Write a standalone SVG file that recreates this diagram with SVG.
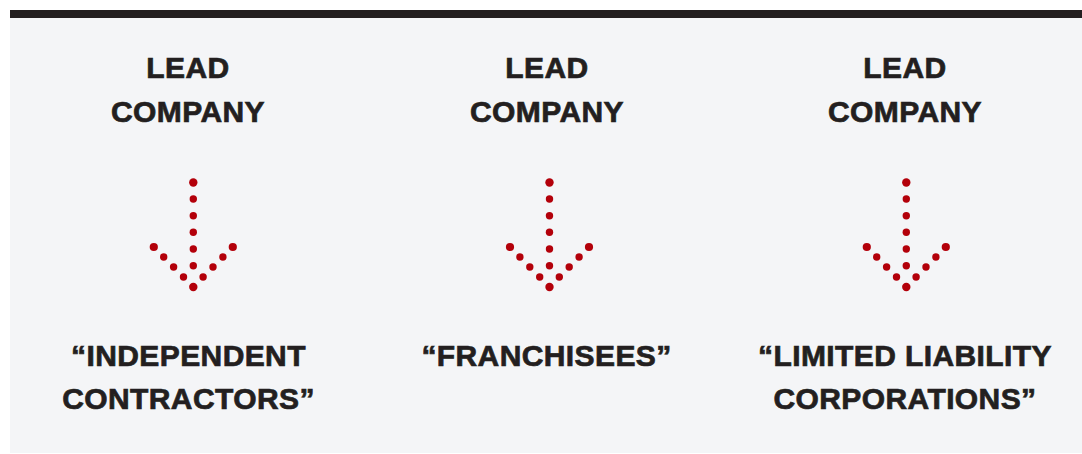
<svg xmlns="http://www.w3.org/2000/svg" width="1082" height="454" viewBox="0 0 1082 454">
<style>
.t{font-family:"Liberation Sans",Arial,sans-serif;font-weight:bold;font-size:30px;fill:#231f20;stroke:#231f20;stroke-width:0.7;letter-spacing:0.4px;text-anchor:middle}
.d{fill:#b3000a}
</style>
<defs>
<g id="arrow">
<circle class="d" cx="0" cy="182.5" r="4.2"/>
<circle class="d" cx="0" cy="199" r="3.7"/>
<circle class="d" cx="0" cy="215.7" r="3.7"/>
<circle class="d" cx="0" cy="232.3" r="3.7"/>
<circle class="d" cx="0" cy="249" r="3.7"/>
<circle class="d" cx="0" cy="265.7" r="3.7"/>
<circle class="d" cx="0" cy="287" r="4.2"/>
<circle class="d" cx="-39.5" cy="247" r="4.1"/>
<circle class="d" cx="-29.6" cy="257" r="3.7"/>
<circle class="d" cx="-19.7" cy="267" r="3.7"/>
<circle class="d" cx="-9.8" cy="277" r="3.7"/>
<circle class="d" cx="39.5" cy="247" r="4.1"/>
<circle class="d" cx="29.6" cy="257" r="3.7"/>
<circle class="d" cx="19.7" cy="267" r="3.7"/>
<circle class="d" cx="9.8" cy="277" r="3.7"/>
</g>
</defs>
<rect x="0" y="0" width="1082" height="454" fill="#ffffff"/>
<rect x="10" y="18" width="1072" height="435" fill="#f4f5f7"/>
<rect x="10" y="10" width="1072" height="8" fill="#231f20"/>
<g id="lead1"><text class="t" x="188" y="78">LEAD</text><text class="t" x="188" y="122">COMPANY</text></g>
<g id="lead2"><text class="t" x="547" y="78">LEAD</text><text class="t" x="547" y="122">COMPANY</text></g>
<g id="lead3"><text class="t" x="905" y="78">LEAD</text><text class="t" x="905" y="122">COMPANY</text></g>
<g id="contractors"><text class="t" x="188.5" y="366">“INDEPENDENT</text><text class="t" x="188.5" y="409">CONTRACTORS”</text></g>
<g id="franchisees"><text class="t" x="546.5" y="366">“FRANCHISEES”</text></g>
<g id="llc"><text class="t" x="905" y="366">“LIMITED LIABILITY</text><text class="t" x="905" y="409">CORPORATIONS”</text></g>
<g id="connectors">
<use href="#arrow" x="193.3" y="0"/>
<use href="#arrow" x="549.5" y="0"/>
<use href="#arrow" x="906.3" y="0"/>
</g>
</svg>
